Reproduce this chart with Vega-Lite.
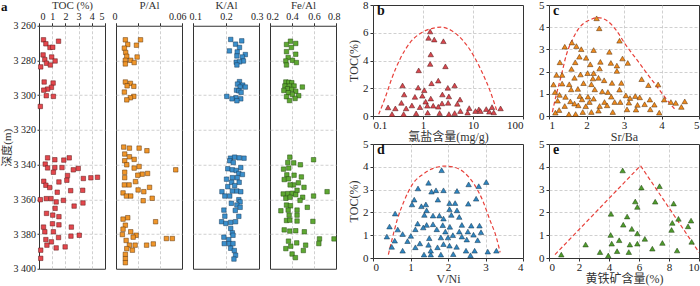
{
"$schema": "https://vega.github.io/schema/vega-lite/v6.json",
"background": "white",
"padding": {"left": 0, "top": -2, "right": 2, "bottom": 0},
"datasets": {
"toc": [{"x":0.34,"y":3268.1},{"x":1.48,"y":3268.9},{"x":0.52,"y":3270.4},{"x":0.83,"y":3272.5},{"x":1.04,"y":3272.4},{"x":0.31,"y":3276.8},{"x":0.96,"y":3278.0},{"x":0.44,"y":3279.5},{"x":1.22,"y":3280.3},{"x":0.57,"y":3281.6},{"x":0.86,"y":3282.6},{"x":0.13,"y":3283.7},{"x":0.39,"y":3292.4},{"x":1.07,"y":3293.0},{"x":0.94,"y":3295.5},{"x":0.65,"y":3296.5},{"x":0.36,"y":3297.1},{"x":0.55,"y":3300.3},{"x":1.09,"y":3300.7},{"x":0.10,"y":3306.5},{"x":0.65,"y":3336.1},{"x":1.20,"y":3337.2},{"x":1.88,"y":3337.4},{"x":2.29,"y":3336.1},{"x":0.47,"y":3339.7},{"x":0.65,"y":3341.9},{"x":1.20,"y":3341.7},{"x":1.74,"y":3341.7},{"x":2.97,"y":3342.2},{"x":2.60,"y":3343.0},{"x":1.09,"y":3344.4},{"x":2.16,"y":3346.3},{"x":2.11,"y":3349.0},{"x":3.36,"y":3348.0},{"x":3.93,"y":3347.6},{"x":4.43,"y":3347.3},{"x":0.36,"y":3349.6},{"x":1.51,"y":3350.0},{"x":0.52,"y":3351.9},{"x":0.81,"y":3353.2},{"x":2.40,"y":3355.0},{"x":3.31,"y":3354.8},{"x":1.38,"y":3355.9},{"x":0.10,"y":3360.2},{"x":0.55,"y":3359.6},{"x":0.91,"y":3359.6},{"x":1.85,"y":3360.6},{"x":3.33,"y":3362.1},{"x":1.30,"y":3361.5},{"x":2.66,"y":3363.9},{"x":1.22,"y":3365.2},{"x":0.57,"y":3368.1},{"x":1.04,"y":3369.1},{"x":1.51,"y":3370.0},{"x":1.02,"y":3374.1},{"x":1.51,"y":3374.7},{"x":0.34,"y":3376.0},{"x":2.45,"y":3376.0},{"x":0.44,"y":3378.7},{"x":1.09,"y":3378.7},{"x":2.42,"y":3381.2},{"x":3.05,"y":3380.7},{"x":1.48,"y":3382.0},{"x":0.52,"y":3383.2},{"x":0.94,"y":3384.5},{"x":0.60,"y":3386.4},{"x":1.30,"y":3388.0},{"x":1.98,"y":3387.4},{"x":0.13,"y":3389.3},{"x":0.13,"y":3394.0}],
"pal": [{"x":0.0085,"y":3268.1},{"x":0.0223,"y":3268.1},{"x":0.0107,"y":3270.8},{"x":0.0186,"y":3271.2},{"x":0.0076,"y":3272.9},{"x":0.0088,"y":3275.4},{"x":0.0098,"y":3277.6},{"x":0.0192,"y":3278.0},{"x":0.0085,"y":3279.9},{"x":0.0134,"y":3279.9},{"x":0.0165,"y":3281.2},{"x":0.0085,"y":3282.0},{"x":0.0085,"y":3292.4},{"x":0.0131,"y":3293.2},{"x":0.0101,"y":3294.6},{"x":0.0162,"y":3294.9},{"x":0.0076,"y":3298.2},{"x":0.0162,"y":3300.7},{"x":0.0131,"y":3301.5},{"x":0.0098,"y":3302.7},{"x":0.0070,"y":3329.9},{"x":0.0122,"y":3330.5},{"x":0.0210,"y":3330.5},{"x":0.0281,"y":3332.0},{"x":0.0079,"y":3333.9},{"x":0.0122,"y":3335.5},{"x":0.0165,"y":3337.0},{"x":0.0079,"y":3337.8},{"x":0.0098,"y":3340.1},{"x":0.0543,"y":3343.0},{"x":0.0210,"y":3341.1},{"x":0.0165,"y":3342.0},{"x":0.0079,"y":3344.4},{"x":0.0287,"y":3345.1},{"x":0.0238,"y":3345.5},{"x":0.0198,"y":3346.1},{"x":0.0079,"y":3347.5},{"x":0.0177,"y":3349.8},{"x":0.0076,"y":3351.7},{"x":0.0119,"y":3351.7},{"x":0.0305,"y":3353.1},{"x":0.0201,"y":3354.6},{"x":0.0253,"y":3355.6},{"x":0.0064,"y":3356.3},{"x":0.0095,"y":3358.1},{"x":0.0134,"y":3358.1},{"x":0.0329,"y":3359.4},{"x":0.0247,"y":3360.8},{"x":0.0107,"y":3370.6},{"x":0.0064,"y":3371.4},{"x":0.0360,"y":3372.9},{"x":0.0085,"y":3374.9},{"x":0.0064,"y":3377.2},{"x":0.0134,"y":3378.7},{"x":0.0058,"y":3380.3},{"x":0.0183,"y":3380.7},{"x":0.0156,"y":3381.8},{"x":0.0458,"y":3382.6},{"x":0.0512,"y":3382.6},{"x":0.0092,"y":3383.7},{"x":0.0122,"y":3386.4},{"x":0.0174,"y":3386.4},{"x":0.0278,"y":3386.4},{"x":0.0339,"y":3385.7},{"x":0.0098,"y":3388.4},{"x":0.0149,"y":3389.3},{"x":0.0085,"y":3391.7},{"x":0.0085,"y":3394.2},{"x":0.0085,"y":3396.5}],
"kal": [{"x":0.2143,"y":3267.9},{"x":0.2478,"y":3268.7},{"x":0.2290,"y":3270.6},{"x":0.2409,"y":3272.5},{"x":0.2103,"y":3274.5},{"x":0.2340,"y":3275.1},{"x":0.2586,"y":3276.6},{"x":0.2330,"y":3277.4},{"x":0.2497,"y":3278.0},{"x":0.2527,"y":3280.3},{"x":0.2310,"y":3281.0},{"x":0.2409,"y":3280.8},{"x":0.2330,"y":3282.6},{"x":0.2409,"y":3292.2},{"x":0.2349,"y":3293.6},{"x":0.2507,"y":3294.2},{"x":0.2428,"y":3295.3},{"x":0.2586,"y":3295.3},{"x":0.2320,"y":3297.1},{"x":0.2389,"y":3297.5},{"x":0.2458,"y":3298.4},{"x":0.2024,"y":3300.7},{"x":0.2300,"y":3301.5},{"x":0.2182,"y":3302.1},{"x":0.2448,"y":3302.1},{"x":0.2330,"y":3303.2},{"x":0.2133,"y":3336.3},{"x":0.2261,"y":3335.7},{"x":0.2399,"y":3336.1},{"x":0.2546,"y":3336.3},{"x":0.2113,"y":3337.8},{"x":0.2221,"y":3338.8},{"x":0.2448,"y":3341.7},{"x":0.2054,"y":3342.4},{"x":0.2192,"y":3343.0},{"x":0.2310,"y":3343.4},{"x":0.2389,"y":3345.1},{"x":0.2497,"y":3345.7},{"x":0.2015,"y":3348.4},{"x":0.2192,"y":3347.5},{"x":0.2340,"y":3347.5},{"x":0.2172,"y":3350.2},{"x":0.2399,"y":3350.2},{"x":0.2054,"y":3352.7},{"x":0.2261,"y":3352.1},{"x":0.1877,"y":3355.6},{"x":0.2192,"y":3355.2},{"x":0.2330,"y":3355.2},{"x":0.2448,"y":3355.6},{"x":0.1965,"y":3358.1},{"x":0.2113,"y":3358.1},{"x":0.2389,"y":3360.2},{"x":0.2428,"y":3361.5},{"x":0.2162,"y":3362.3},{"x":0.2330,"y":3363.3},{"x":0.2428,"y":3364.6},{"x":0.1936,"y":3366.2},{"x":0.2281,"y":3366.4},{"x":0.2389,"y":3369.8},{"x":0.1965,"y":3369.7},{"x":0.1867,"y":3372.9},{"x":0.1995,"y":3373.9},{"x":0.2143,"y":3373.3},{"x":0.2290,"y":3372.9},{"x":0.2143,"y":3376.8},{"x":0.2192,"y":3379.3},{"x":0.2212,"y":3380.7},{"x":0.1936,"y":3381.8},{"x":0.2084,"y":3383.2},{"x":0.1946,"y":3385.5},{"x":0.2093,"y":3385.5},{"x":0.2212,"y":3385.5},{"x":0.2143,"y":3388.2},{"x":0.2251,"y":3389.5},{"x":0.2290,"y":3392.2},{"x":0.2241,"y":3394.4}],
"feal": [{"x":0.386,"y":3268.9},{"x":0.350,"y":3270.8},{"x":0.434,"y":3270.2},{"x":0.395,"y":3272.5},{"x":0.350,"y":3274.9},{"x":0.434,"y":3276.4},{"x":0.365,"y":3278.3},{"x":0.344,"y":3280.3},{"x":0.404,"y":3279.9},{"x":0.440,"y":3281.2},{"x":0.350,"y":3282.6},{"x":0.344,"y":3292.4},{"x":0.371,"y":3292.6},{"x":0.398,"y":3292.8},{"x":0.335,"y":3294.7},{"x":0.377,"y":3294.7},{"x":0.419,"y":3294.7},{"x":0.494,"y":3295.3},{"x":0.359,"y":3296.3},{"x":0.398,"y":3296.7},{"x":0.326,"y":3297.3},{"x":0.434,"y":3297.8},{"x":0.368,"y":3298.6},{"x":0.404,"y":3299.6},{"x":0.461,"y":3300.3},{"x":0.350,"y":3300.9},{"x":0.428,"y":3301.9},{"x":0.377,"y":3303.1},{"x":0.380,"y":3335.7},{"x":0.362,"y":3338.8},{"x":0.416,"y":3339.0},{"x":0.476,"y":3340.1},{"x":0.596,"y":3337.2},{"x":0.323,"y":3342.6},{"x":0.371,"y":3342.0},{"x":0.353,"y":3345.9},{"x":0.419,"y":3346.1},{"x":0.485,"y":3347.1},{"x":0.329,"y":3348.6},{"x":0.368,"y":3348.2},{"x":0.458,"y":3350.5},{"x":0.413,"y":3351.7},{"x":0.383,"y":3351.7},{"x":0.509,"y":3353.1},{"x":0.446,"y":3354.8},{"x":0.320,"y":3356.9},{"x":0.362,"y":3356.7},{"x":0.404,"y":3356.5},{"x":0.434,"y":3357.3},{"x":0.596,"y":3358.1},{"x":0.719,"y":3355.6},{"x":0.344,"y":3359.4},{"x":0.383,"y":3358.8},{"x":0.497,"y":3358.8},{"x":0.473,"y":3360.6},{"x":0.350,"y":3363.3},{"x":0.386,"y":3363.7},{"x":0.539,"y":3364.6},{"x":0.299,"y":3366.6},{"x":0.365,"y":3366.2},{"x":0.446,"y":3366.2},{"x":0.374,"y":3369.1},{"x":0.446,"y":3369.1},{"x":0.350,"y":3372.2},{"x":0.380,"y":3372.0},{"x":0.590,"y":3372.7},{"x":0.446,"y":3372.5},{"x":0.329,"y":3377.6},{"x":0.380,"y":3378.3},{"x":0.434,"y":3378.1},{"x":0.512,"y":3378.7},{"x":0.650,"y":3382.8},{"x":0.782,"y":3382.8},{"x":0.368,"y":3384.1},{"x":0.443,"y":3385.1},{"x":0.389,"y":3387.0},{"x":0.644,"y":3385.5},{"x":0.524,"y":3386.4},{"x":0.344,"y":3388.4},{"x":0.503,"y":3389.5},{"x":0.401,"y":3391.5},{"x":0.431,"y":3393.6}],
"pb": [{"x":1.39,"y":6.09},{"x":1.29,"y":5.63},{"x":1.68,"y":5.51},{"x":2.56,"y":5.39},{"x":1.43,"y":4.44},{"x":1.39,"y":3.75},{"x":2.81,"y":3.58},{"x":0.82,"y":3.29},{"x":2.02,"y":2.55},{"x":1.48,"y":2.36},{"x":4.29,"y":2.2},{"x":0.39,"y":2.2},{"x":0.80,"y":2.05},{"x":3.14,"y":2.03},{"x":1.06,"y":1.86},{"x":0.42,"y":1.55},{"x":2.44,"y":1.55},{"x":0.69,"y":1.38},{"x":0.97,"y":1.46},{"x":3.29,"y":1.41},{"x":1.43,"y":1.26},{"x":5.5,"y":1.19},{"x":0.37,"y":0.95},{"x":1.13,"y":1.03},{"x":2.40,"y":0.91},{"x":3.18,"y":0.95},{"x":4.86,"y":0.88},{"x":0.46,"y":0.55},{"x":0.20,"y":0.62},{"x":0.28,"y":0.55},{"x":0.60,"y":0.76},{"x":0.87,"y":0.64},{"x":1.22,"y":0.74},{"x":1.60,"y":0.74},{"x":2.02,"y":0.67},{"x":8.4,"y":0.57},{"x":13.1,"y":0.48},{"x":18.4,"y":0.5},{"x":24.0,"y":0.64},{"x":35.6,"y":0.55},{"x":11.2,"y":0.36},{"x":14.1,"y":0.36},{"x":21.2,"y":0.31},{"x":26.0,"y":0.26},{"x":5.6,"y":0.36},{"x":4.3,"y":0.21},{"x":3.3,"y":0.14},{"x":2.15,"y":0.21},{"x":1.24,"y":0.24},{"x":0.73,"y":0.19},{"x":0.41,"y":0.14},{"x":0.24,"y":0.14},{"x":7.8,"y":0.24}],
"pc": [{"x":2.27,"y":4.40},{"x":2.34,"y":3.95},{"x":1.61,"y":3.31},{"x":1.42,"y":3.12},{"x":1.73,"y":3.15},{"x":1.86,"y":3.01},{"x":2.88,"y":3.39},{"x":2.19,"y":2.97},{"x":2.61,"y":2.89},{"x":1.29,"y":2.42},{"x":1.70,"y":2.42},{"x":1.81,"y":2.67},{"x":1.99,"y":2.62},{"x":2.37,"y":2.44},{"x":2.65,"y":2.39},{"x":2.81,"y":2.27},{"x":2.96,"y":2.59},{"x":3.10,"y":2.39},{"x":1.60,"y":2.12},{"x":2.10,"y":2.33},{"x":2.35,"y":2.14},{"x":2.81,"y":2.03},{"x":1.20,"y":1.85},{"x":1.35,"y":1.85},{"x":1.68,"y":1.72},{"x":1.84,"y":1.87},{"x":2.03,"y":1.93},{"x":2.19,"y":1.93},{"x":2.17,"y":1.69},{"x":2.32,"y":1.72},{"x":2.47,"y":1.61},{"x":1.12,"y":1.42},{"x":1.35,"y":1.46},{"x":1.54,"y":1.43},{"x":1.92,"y":1.48},{"x":2.13,"y":1.43},{"x":2.68,"y":1.49},{"x":2.93,"y":1.49},{"x":3.47,"y":1.66},{"x":3.65,"y":1.39},{"x":3.91,"y":1.42},{"x":1.16,"y":1.08},{"x":1.59,"y":1.20},{"x":1.77,"y":1.22},{"x":2.22,"y":1.20},{"x":2.42,"y":1.11},{"x":2.57,"y":1.08},{"x":2.88,"y":1.19},{"x":1.28,"y":0.95},{"x":1.44,"y":0.86},{"x":1.82,"y":0.90},{"x":2.04,"y":0.87},{"x":2.66,"y":0.87},{"x":3.05,"y":0.93},{"x":3.30,"y":0.90},{"x":3.42,"y":0.84},{"x":3.16,"y":0.81},{"x":1.88,"y":0.75},{"x":2.19,"y":0.78},{"x":1.23,"y":0.69},{"x":1.57,"y":0.66},{"x":1.68,"y":0.56},{"x":2.08,"y":0.63},{"x":2.48,"y":0.63},{"x":2.75,"y":0.63},{"x":2.90,"y":0.63},{"x":3.13,"y":0.60},{"x":3.69,"y":0.74},{"x":4.07,"y":0.74},{"x":4.25,"y":0.63},{"x":4.38,"y":0.59},{"x":4.62,"y":0.66},{"x":1.42,"y":0.45},{"x":1.78,"y":0.48},{"x":1.98,"y":0.44},{"x":2.35,"y":0.45},{"x":2.55,"y":0.48},{"x":3.36,"y":0.50},{"x":3.55,"y":0.53},{"x":3.81,"y":0.51},{"x":4.53,"y":0.41},{"x":1.17,"y":0.15},{"x":1.27,"y":0.27},{"x":1.53,"y":0.08},{"x":1.71,"y":0.09},{"x":1.90,"y":0.18},{"x":2.13,"y":0.18},{"x":2.32,"y":0.24},{"x":2.70,"y":0.18},{"x":3.08,"y":0.30},{"x":3.32,"y":0.29},{"x":3.70,"y":0.30},{"x":3.94,"y":0.15}],
"pd": [{"x":1.83,"y":3.85},{"x":1.48,"y":3.30},{"x":2.55,"y":3.23},{"x":3.02,"y":3.33},{"x":2.82,"y":3.15},{"x":1.20,"y":3.05},{"x":1.56,"y":2.91},{"x":1.68,"y":2.97},{"x":1.88,"y":2.97},{"x":2.24,"y":2.94},{"x":1.10,"y":2.56},{"x":1.73,"y":2.56},{"x":2.75,"y":2.60},{"x":1.04,"y":2.35},{"x":1.29,"y":2.27},{"x":1.41,"y":2.35},{"x":2.04,"y":2.41},{"x":2.19,"y":2.41},{"x":2.54,"y":2.38},{"x":1.43,"y":2.09},{"x":2.04,"y":2.14},{"x":2.24,"y":2.09},{"x":0.59,"y":1.95},{"x":1.37,"y":1.89},{"x":1.60,"y":1.86},{"x":1.77,"y":1.86},{"x":1.88,"y":1.73},{"x":2.09,"y":1.89},{"x":2.30,"y":1.80},{"x":1.19,"y":1.51},{"x":1.43,"y":1.45},{"x":1.60,"y":1.48},{"x":1.86,"y":1.44},{"x":2.05,"y":1.37},{"x":2.37,"y":1.45},{"x":2.62,"y":1.42},{"x":2.84,"y":1.42},{"x":0.44,"y":1.38},{"x":0.66,"y":1.25},{"x":0.79,"y":1.05},{"x":1.01,"y":0.97},{"x":1.13,"y":1.26},{"x":1.34,"y":1.34},{"x":1.70,"y":1.26},{"x":1.93,"y":1.16},{"x":2.30,"y":1.16},{"x":2.53,"y":1.16},{"x":2.68,"y":1.02},{"x":2.88,"y":1.13},{"x":0.37,"y":0.94},{"x":0.58,"y":0.76},{"x":0.92,"y":0.74},{"x":1.25,"y":0.64},{"x":1.50,"y":0.87},{"x":1.81,"y":0.90},{"x":2.00,"y":0.90},{"x":2.13,"y":1.00},{"x":2.37,"y":0.94},{"x":2.50,"y":0.81},{"x":2.79,"y":0.78},{"x":0.50,"y":0.49},{"x":0.79,"y":0.32},{"x":1.13,"y":0.47},{"x":1.48,"y":0.58},{"x":1.72,"y":0.47},{"x":1.88,"y":0.61},{"x":2.04,"y":0.54},{"x":2.23,"y":0.49},{"x":2.48,"y":0.32},{"x":2.71,"y":0.32},{"x":3.06,"y":0.28},{"x":3.29,"y":0.32},{"x":1.36,"y":0.15},{"x":1.54,"y":0.15},{"x":1.81,"y":0.15},{"x":2.14,"y":0.17},{"x":2.60,"y":0.12},{"x":1.54,"y":0.32}],
"pe": [{"x":4.91,"y":3.84},{"x":6.16,"y":3.09},{"x":7.37,"y":3.15},{"x":5.75,"y":2.48},{"x":7.08,"y":2.47},{"x":5.89,"y":2.24},{"x":8.31,"y":2.39},{"x":4.13,"y":1.94},{"x":5.21,"y":1.82},{"x":8.63,"y":1.72},{"x":9.47,"y":1.64},{"x":8.22,"y":1.54},{"x":4.95,"y":1.46},{"x":5.52,"y":1.28},{"x":9.27,"y":1.39},{"x":8.17,"y":1.23},{"x":5.89,"y":1.08},{"x":4.11,"y":1.01},{"x":4.68,"y":0.78},{"x":6.39,"y":0.84},{"x":4.18,"y":0.63},{"x":5.39,"y":0.59},{"x":5.89,"y":0.63},{"x":7.56,"y":0.66},{"x":9.51,"y":0.71},{"x":2.44,"y":0.59},{"x":6.89,"y":0.41},{"x":4.54,"y":0.30},{"x":3.40,"y":0.26},{"x":5.32,"y":0.26},{"x":8.54,"y":0.33},{"x":3.95,"y":0.11},{"x":0.82,"y":0.15}],
"cb": [{"x":0.13,"y":0.12},{"x":0.173,"y":1.26},{"x":0.237,"y":2.7},{"x":0.35,"y":4.13},{"x":0.56,"y":5.32},{"x":0.97,"y":6.04},{"x":1.55,"y":6.32},{"x":2.29,"y":6.4},{"x":3.97,"y":6.09},{"x":6.3,"y":5.44},{"x":10.2,"y":4.37},{"x":15.1,"y":3.17},{"x":22.3,"y":1.74},{"x":29.6,"y":0.43}],
"cc": [{"x":1.09,"y":0.18},{"x":1.19,"y":0.93},{"x":1.33,"y":1.84},{"x":1.46,"y":2.74},{"x":1.64,"y":3.49},{"x":1.81,"y":3.98},{"x":2.08,"y":4.32},{"x":2.30,"y":4.43},{"x":2.52,"y":4.32},{"x":2.79,"y":3.87},{"x":3.05,"y":3.19},{"x":3.32,"y":2.59},{"x":3.58,"y":1.99},{"x":3.85,"y":1.39},{"x":4.12,"y":0.78},{"x":4.38,"y":0.26}],
"cd": [{"x":0.41,"y":0.15},{"x":0.52,"y":0.9},{"x":0.65,"y":1.7},{"x":0.83,"y":2.5},{"x":1.05,"y":3.23},{"x":1.32,"y":3.66},{"x":1.59,"y":3.92},{"x":1.90,"y":4.03},{"x":2.17,"y":3.98},{"x":2.44,"y":3.74},{"x":2.70,"y":3.23},{"x":2.93,"y":2.5},{"x":3.11,"y":1.7},{"x":3.29,"y":0.9},{"x":3.39,"y":0.25}],
"ce": [{"x":0.4,"y":0.15},{"x":6.1,"y":4.05},{"x":10,"y":0.25}]
},
"hconcat": [
 {
  "bounds": "flush",
  "spacing": 11,
  "hconcat": [
   {
    "width": 66, "height": 243,
    "title": {"text": "a", "anchor": "start", "frame": "bounds", "offset": -14, "fontSize": 13},
    "data": {"name": "toc"},
    "mark": {"type": "square", "size": 20, "fill": "#e4474d", "stroke": "#5a1818", "strokeWidth": 0.5, "opacity": 1},
    "encoding": {
     "x": {"field": "x", "type": "quantitative", "scale": {"domain": [0, 5], "nice": false, "zero": false}, "axis": {"orient": "top", "title": "TOC (%)", "values": [0, 1, 2, 3, 4, 5], "labelFlushOffset": -1, "gridOpacity": {"condition": {"test": "datum.value <= 0 || datum.value >= 5", "value": 0}, "value": 1}}},
     "y": {"field": "y", "type": "quantitative", "scale": {"domain": [3260, 3400], "reverse": true, "nice": false, "zero": false}, "axis": {"title": "深度(m)", "titleFontSize": 11, "titlePadding": 1, "labelFontSize": 10, "labelPadding": 1.5, "tickSize": 2, "values": [3260, 3280, 3300, 3320, 3340, 3360, 3380, 3400], "labelExpr": "replace(format(datum.value, ','), ',', ' ')", "gridOpacity": {"condition": {"test": "datum.value <= 3260 || datum.value >= 3400", "value": 0}, "value": 1}}}
    }
   },
   {
    "width": 66, "height": 243,
    "data": {"name": "pal"},
    "mark": {"type": "square", "size": 20, "fill": "#f0962a", "stroke": "#5e340a", "strokeWidth": 0.5, "opacity": 1},
    "encoding": {
     "x": {"field": "x", "type": "quantitative", "scale": {"domain": [0, 0.06], "nice": false, "zero": false}, "axis": {"orient": "top", "title": "P/Al", "values": [0, 0.02, 0.04, 0.06], "format": "~g", "labelFlushOffset": 4, "gridOpacity": {"condition": {"test": "datum.value <= 0 || datum.value >= 0.06", "value": 0}, "value": 1}}},
     "y": {"field": "y", "type": "quantitative", "scale": {"domain": [3260, 3400], "reverse": true, "nice": false, "zero": false}, "axis": {"title": null, "labels": false, "ticks": false, "values": [3260, 3280, 3300, 3320, 3340, 3360, 3380, 3400], "gridOpacity": {"condition": {"test": "datum.value <= 3260 || datum.value >= 3400", "value": 0}, "value": 1}}}
    }
   },
   {
    "width": 66, "height": 243,
    "data": {"name": "kal"},
    "mark": {"type": "square", "size": 20, "fill": "#3a8fcc", "stroke": "#183b58", "strokeWidth": 0.5, "opacity": 1},
    "encoding": {
     "x": {"field": "x", "type": "quantitative", "scale": {"domain": [0.1, 0.3], "nice": false, "zero": false}, "axis": {"orient": "top", "title": "K/Al", "values": [0.1, 0.2, 0.3], "format": "~g", "labelFlushOffset": 4, "gridOpacity": {"condition": {"test": "datum.value <= 0.1 || datum.value >= 0.3", "value": 0}, "value": 1}}},
     "y": {"field": "y", "type": "quantitative", "scale": {"domain": [3260, 3400], "reverse": true, "nice": false, "zero": false}, "axis": {"title": null, "labels": false, "ticks": false, "values": [3260, 3280, 3300, 3320, 3340, 3360, 3380, 3400], "gridOpacity": {"condition": {"test": "datum.value <= 3260 || datum.value >= 3400", "value": 0}, "value": 1}}}
    }
   },
   {
    "width": 66, "height": 243,
    "data": {"name": "feal"},
    "mark": {"type": "square", "size": 20, "fill": "#5ea832", "stroke": "#244a10", "strokeWidth": 0.5, "opacity": 1},
    "encoding": {
     "x": {"field": "x", "type": "quantitative", "scale": {"domain": [0.2, 0.8], "nice": false, "zero": false}, "axis": {"orient": "top", "title": "Fe/Al", "values": [0.2, 0.4, 0.6, 0.8], "format": "~g", "labelFlushOffset": 4, "gridOpacity": {"condition": {"test": "datum.value <= 0.2 || datum.value >= 0.8", "value": 0}, "value": 1}}},
     "y": {"field": "y", "type": "quantitative", "scale": {"domain": [3260, 3400], "reverse": true, "nice": false, "zero": false}, "axis": {"title": null, "labels": false, "ticks": false, "values": [3260, 3280, 3300, 3320, 3340, 3360, 3380, 3400], "gridOpacity": {"condition": {"test": "datum.value <= 3260 || datum.value >= 3400", "value": 0}, "value": 1}}}
    }
   }
  ]
 },
 {
  "columns": 2,
  "spacing": {"row": -6, "column": 14},
  "title": {"text": " ", "orient": "bottom", "fontSize": 2, "offset": 8},
  "concat": [
   {
    "width": 150, "height": 111,
    "title": {"text": "b", "anchor": "start", "frame": "group", "offset": -19, "dx": 4},
    "encoding": {
     "x": {"field": "x", "type": "quantitative", "scale": {"type": "log", "domain": [0.1, 100], "nice": false}, "axis": {"title": "氯盐含量(mg/g)", "values": [0.1, 1, 10, 100], "format": "~g", "gridOpacity": {"condition": {"test": "datum.value <= 0.1 || datum.value >= 100", "value": 0}, "value": 1}}},
     "y": {"field": "y", "type": "quantitative", "scale": {"domain": [0, 8], "nice": false, "zero": false}, "axis": {"title": "TOC(%)", "values": [0, 2, 4, 6, 8], "gridOpacity": {"condition": {"test": "datum.value <= 0 || datum.value >= 8", "value": 0}, "value": 1}}}
    },
    "layer": [
     {"data": {"name": "cb"}, "mark": {"type": "line", "color": "#e8413b", "strokeDash": [4, 2.5], "strokeWidth": 1.2, "interpolate": "monotone"}},
     {"data": {"name": "pb"}, "mark": {"type": "point", "shape": "triangle-up", "filled": true, "size": 30, "fill": "#d9474e", "stroke": "#4a1414", "strokeWidth": 0.5, "opacity": 1}}
    ]
   },
   {
    "width": 150, "height": 111,
    "title": {"text": "c", "anchor": "start", "frame": "group", "offset": -19, "dx": 4},
    "encoding": {
     "x": {"field": "x", "type": "quantitative", "scale": {"domain": [1, 5], "nice": false, "zero": false}, "axis": {"title": "Sr/Ba", "values": [1, 2, 3, 4, 5], "gridOpacity": {"condition": {"test": "datum.value <= 1 || datum.value >= 5", "value": 0}, "value": 1}}},
     "y": {"field": "y", "type": "quantitative", "scale": {"domain": [0, 5], "nice": false, "zero": false}, "axis": {"title": null, "values": [0, 1, 2, 3, 4, 5], "gridOpacity": {"condition": {"test": "datum.value <= 0 || datum.value >= 5", "value": 0}, "value": 1}}}
    },
    "layer": [
     {"data": {"name": "cc"}, "mark": {"type": "line", "color": "#e8413b", "strokeDash": [4, 2.5], "strokeWidth": 1.2, "interpolate": "monotone"}},
     {"data": {"name": "pc"}, "mark": {"type": "point", "shape": "triangle-up", "filled": true, "size": 30, "fill": "#f08a1c", "stroke": "#4f2a06", "strokeWidth": 0.5, "opacity": 1}}
    ]
   },
   {
    "width": 150, "height": 114,
    "title": {"text": "d", "anchor": "start", "frame": "group", "offset": -19, "dx": 4},
    "encoding": {
     "x": {"field": "x", "type": "quantitative", "scale": {"domain": [0, 4], "nice": false, "zero": false}, "axis": {"title": "V/Ni", "values": [0, 1, 2, 3, 4], "gridOpacity": {"condition": {"test": "datum.value <= 0 || datum.value >= 4", "value": 0}, "value": 1}}},
     "y": {"field": "y", "type": "quantitative", "scale": {"domain": [0, 5], "nice": false, "zero": false}, "axis": {"title": "TOC(%)", "values": [0, 1, 2, 3, 4, 5], "gridOpacity": {"condition": {"test": "datum.value <= 0 || datum.value >= 5", "value": 0}, "value": 1}}}
    },
    "layer": [
     {"data": {"name": "cd"}, "mark": {"type": "line", "color": "#e8413b", "strokeDash": [4, 2.5], "strokeWidth": 1.2, "interpolate": "monotone"}},
     {"data": {"name": "pd"}, "mark": {"type": "point", "shape": "triangle-up", "filled": true, "size": 30, "fill": "#2f85c0", "stroke": "#12324a", "strokeWidth": 0.5, "opacity": 1}}
    ]
   },
   {
    "width": 150, "height": 114,
    "title": {"text": "e", "anchor": "start", "frame": "group", "offset": -19, "dx": 4},
    "encoding": {
     "x": {"field": "x", "type": "quantitative", "scale": {"domain": [0, 10], "nice": false, "zero": false}, "axis": {"title": "黄铁矿含量(%)", "values": [0, 2, 4, 6, 8, 10], "gridOpacity": {"condition": {"test": "datum.value <= 0 || datum.value >= 10", "value": 0}, "value": 1}}},
     "y": {"field": "y", "type": "quantitative", "scale": {"domain": [0, 5], "nice": false, "zero": false}, "axis": {"title": null, "values": [0, 1, 2, 3, 4, 5], "gridOpacity": {"condition": {"test": "datum.value <= 0 || datum.value >= 5", "value": 0}, "value": 1}}}
    },
    "layer": [
     {"data": {"name": "ce"}, "mark": {"type": "line", "color": "#e8413b", "strokeDash": [4, 2.5], "strokeWidth": 1.2}},
     {"data": {"name": "pe"}, "mark": {"type": "point", "shape": "triangle-up", "filled": true, "size": 30, "fill": "#4f9c2c", "stroke": "#1d3d0e", "strokeWidth": 0.5, "opacity": 1}}
    ]
   }
  ]
 }
],
"spacing": 6,
"center": true,
"config": {
 "font": "Liberation Serif",
 "view": {"stroke": "#333333", "strokeWidth": 1},
 "title": {"font": "Liberation Serif", "fontSize": 14, "fontWeight": "bold", "color": "#111111"},
 "axis": {
  "labelFont": "Liberation Serif", "labelFontSize": 11, "labelColor": "#222222",
  "titleFont": "Liberation Serif, Noto Sans CJK SC", "titleFontSize": 12, "titleFontWeight": "normal", "titleColor": "#333333",
  "tickColor": "#333333", "tickSize": 3, "labelPadding": 2, "titlePadding": 2,
  "domain": false, "grid": true, "gridColor": "#c4c4c4", "gridDash": [3, 2], "gridWidth": 0.8
 },
 "axisBottom": {"labelPadding": 0.5, "titlePadding": 1},
 "axisTop": {"labelFontSize": 10, "titleFontSize": 11, "labelPadding": 1, "titlePadding": 1, "tickSize": 3}
}
}
